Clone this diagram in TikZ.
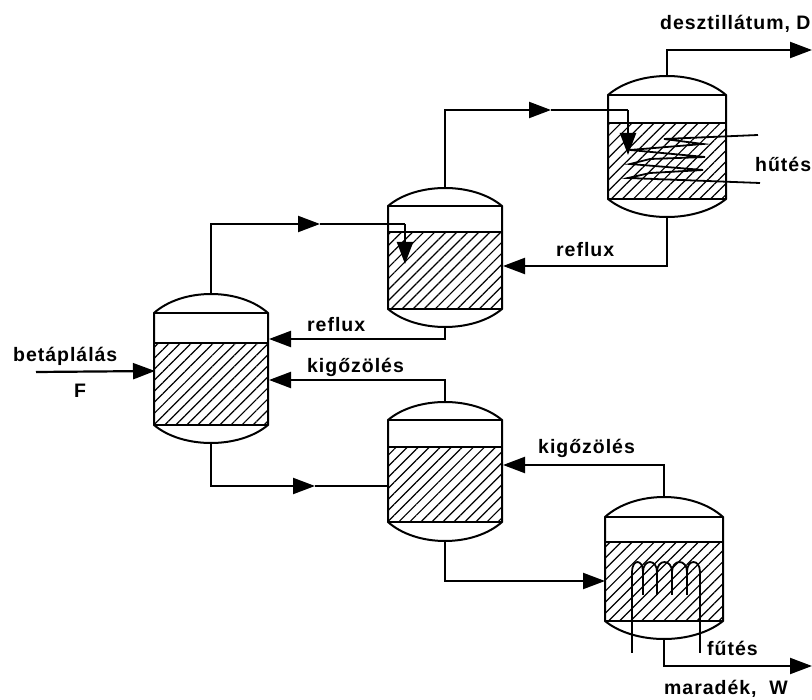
\documentclass[tikz,border=0pt]{standalone}
\usepackage{fontspec}
\setmainfont{Liberation Sans}[LetterSpace=5]
\usepackage{xcolor}
\usepackage{tikz}
\usetikzlibrary{arrows.meta, patterns.meta, calc}
\tikzset{
  pipe/.style={line width=2.2pt},
  flow/.style={pipe,-{Triangle[length=22pt,width=16pt]}},
  tube/.style={line width=1.8pt},
  wall/.style={line width=2pt},
  hatch/.style={pattern={Lines[angle=45,distance=7.8pt,line width=1.2pt]}},
  tag/.style={font=\fontsize{19.5}{20}\selectfont\bfseries,inner sep=0pt},
}
% name, left, right, dome top, shoulder, liquid level, bottom, bottom of dome
\newcommand{\vessel}[8]{
  \pgfmathsetmacro{\vmid}{(#2+#3)/2}
  \pgfmathsetmacro{\vtop}{#5-4/3*(#5-#4)}
  \pgfmathsetmacro{\vbot}{#7+4/3*(#8-#7)}
  \pgfmathsetmacro{\vla}{#2+(#3-#2)/4}
  \pgfmathsetmacro{\vlb}{#3-(#3-#2)/4}
  \fill[hatch] (#2,#6) rectangle (#3,#7);
  \draw[wall] (#2,#7) -- (#2,#5) .. controls (\vla,\vtop) and (\vlb,\vtop) .. (#3,#5) -- (#3,#7)
    .. controls (\vlb,\vbot) and (\vla,\vbot) .. cycle;
  \draw[wall] (#2,#5) -- (#3,#5);
  \draw[wall] (#2,#6) -- (#3,#6);
  \draw[wall] (#2,#7) -- (#3,#7);
  \coordinate (#1top) at (\vmid,#4);
  \coordinate (#1bot) at (\vmid,#8);
}

\begin{document}
\begin{tikzpicture}[x=1pt,y=-1pt]
  \useasboundingbox (0,0) rectangle (812,700);
  \vessel{feed}{154}{268}{294}{313}{343}{425}{443}
  \vessel{upper}{388}{502}{188}{206}{232}{309}{327}
  \vessel{cond}{608}{726}{76}{95}{123}{199}{217}
  \vessel{lower}{388}{502}{402}{420}{447}{522}{541}
  \vessel{reb}{605}{723}{497}{517}{542}{621}{639}

  % free ends and pipe joints
  \coordinate (feedstart) at (36,372);
  \coordinate (feedin) at (155,371);
  \coordinate (feedrefl) at (269,339);
  \coordinate (feedstrip) at (269,380);
  \coordinate (upperrefl) at (503,266);
  \coordinate (lowerin) at (315,486);
  \coordinate (lowerjoin) at (388,486);
  \coordinate (lowerstrip) at (503,465);
  \coordinate (rebin) at (605,581);
  \coordinate (upmid) at (320,224);
  \coordinate (upcorner) at (405,224);
  \coordinate (uptip) at (405,264);
  \coordinate (condmid) at (551,110);
  \coordinate (condcorner) at (628,110);
  \coordinate (condtip) at (628,155);
  \coordinate (distend) at (812,50);
  \coordinate (resend) at (812,666);

  \draw[flow] (feedstart) -- (feedin);
  \draw[flow] (feedtop) |- (upmid);
  \draw[pipe] (upmid) -- (upcorner);
  \draw[flow] (upcorner) -- (uptip);
  \draw[flow] (uppertop) |- (condmid);
  \draw[pipe] (condmid) -- (condcorner);
  \draw[flow] (condcorner) -- (condtip);
  \draw[flow] (condtop) |- (distend);
  \draw[flow] (condbot) |- (upperrefl);
  \draw[flow] (upperbot) |- (feedrefl);
  \draw[flow] (lowertop) |- (feedstrip);
  \draw[flow] (feedbot) |- (lowerin);
  \draw[pipe] (lowerin) -- (lowerjoin);
  \draw[flow] (rebtop) |- (lowerstrip);
  \draw[flow] (lowerbot) |- (rebin);
  \draw[flow] (rebbot) |- (resend);

  % cooling coil
  \draw[tube] (758,135) -- (664,139) -- (703,144) -- (630,150) -- (705,157) -- (650,159)
    -- (630,164) -- (703,170) -- (650,173) -- (628,178) -- (760,183);
  % heating coil
  \foreach \xa/\xb in {632/643,643/657,657/672,672/687,687/700}
    \draw[tube] (\xa,572) .. controls (\xa,558.7) and (\xb,558.7) .. (\xb,572);
  \draw[tube] (632,572) -- (632,653);
  \draw[tube] (700,572) -- (700,653);
  \foreach \xa in {643,657,672,687}
    \draw[tube] (\xa,572) -- (\xa,595);

  \node[tag,anchor=west] (feedtag) at (13,356) {betáplálás};
  \node[tag] (feedsym) at (80,391) {F};
  \node[tag,anchor=west] (refla) at (307,325) {reflux};
  \node[tag,anchor=west] (stripa) at (307,367) {kigőzölés};
  \node[tag,anchor=west] (reflb) at (556,250) {reflux};
  \node[tag,anchor=west] (stripb) at (538,448) {kigőzölés};
  \node[tag,anchor=west] (disttag) at (660,24) {desztillátum, D};
  \node[tag,anchor=west] (cooltag) at (755,164) {hűtés};
  \node[tag,anchor=west] (heattag) at (707,648) {fűtés};
  \node[tag,anchor=west] (restag) at (664,689) {maradék,~~W};
\end{tikzpicture}
\end{document}
